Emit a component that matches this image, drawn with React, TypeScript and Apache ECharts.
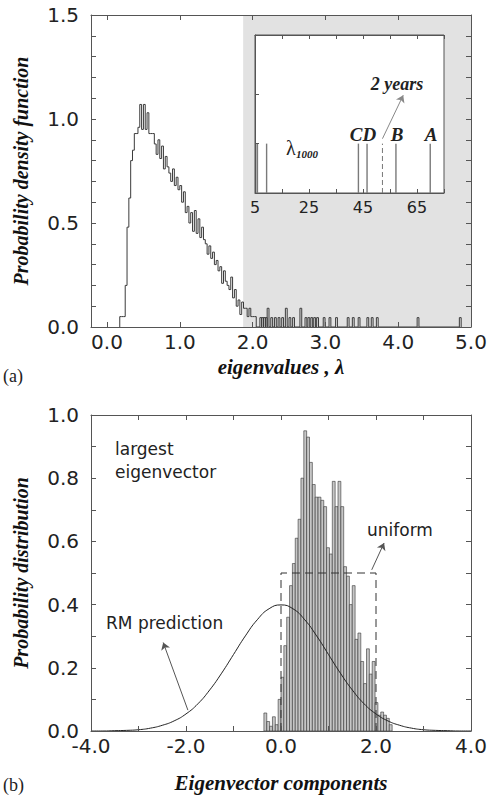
import React, { useEffect, useRef } from "react";
import * as echarts from "echarts";

// ---------- Panel (a): eigenvalue probability density ----------
const topBinStart = 0.175;
const topBinWidth = 0.025;
const topHeights = [
  0.05, 0.05, 0.05, 0.2, 0.48, 0.62, 0.8, 0.85, 0.93, 0.93,
  0.96, 1.07, 0.95, 1.07, 0.95, 1.03, 0.93, 0.93, 0.93, 0.88,
  0.83, 0.9, 0.81, 0.87, 0.76, 0.82, 0.77, 0.74, 0.7, 0.76,
  0.68, 0.72, 0.66, 0.68, 0.6, 0.65, 0.55, 0.58, 0.5, 0.55,
  0.46, 0.56, 0.45, 0.52, 0.43, 0.48, 0.42, 0.4, 0.35, 0.39,
  0.33, 0.36, 0.3, 0.32, 0.27, 0.29, 0.21, 0.27, 0.22, 0.2,
  0.18, 0.24, 0.14, 0.18, 0.1, 0.13, 0.06, 0.12, 0.09, 0.09,
  0.05, 0.09, 0.05, 0.05, 0.05,
];
const tailLeft = [
  2.1, 2.125, 2.15, 2.175, 2.2, 2.25, 2.3, 2.35, 2.4, 2.45, 2.5, 2.55, 2.65,
  2.72, 2.76, 2.8, 2.84, 2.88, 2.97, 3.05, 3.14, 3.3, 3.37, 3.45, 3.57, 3.63,
  3.7, 4.26, 4.84,
];
const tailHeights = [
  0.045, 0.045, 0.045, 0.045, 0.09, 0.045, 0.045, 0.045, 0.045, 0.09, 0.045,
  0.045, 0.09, 0.045, 0.045, 0.045, 0.045, 0.045, 0.045, 0.045, 0.045, 0.045,
  0.045, 0.045, 0.045, 0.045, 0.045, 0.045, 0.045,
];
const shadeFrom = 1.87;
const topXMin = -0.22;
const topXMax = 5;
const topYMax = 1.5;
const topXTicks = [0, 1, 2, 3, 4, 5];
const topYLabels = [0, 0.5, 1, 1.5];

// inset: largest eigenvalues
const insetLines = [5.3, 5.9, 9.3, 43.3, 46.5, 57.2, 69.9];
const insetLineHeight = 1;
const twoYears = 52.2;
const insetXLabels = [5, 25, 45, 65];
const insetYTicks = [1, 2];
const twoYearsArrowFrom = [52.2, 1.1];
const twoYearsArrowTo = [59.9, 1.98];

// ---------- Panel (b): eigenvector components ----------
const botBinStart = -0.36;
const botBinWidth = 0.06;
const botHeights = [
  0.057, 0.03, 0.015, 0.045, 0.02, 0.1, 0.17, 0.27, 0.36, 0.46,
  0.53, 0.61, 0.67, 0.8, 0.95, 0.93, 0.85, 0.78, 0.74, 0.74,
  0.73, 0.71, 0.58, 0.56, 0.79, 0.71, 0.79, 0.71, 0.52, 0.49,
  0.4, 0.46, 0.29, 0.31, 0.22, 0.15, 0.26, 0.18, 0.22, 0.09,
  0.05, 0.06, 0.05, 0.04, 0.02,
];
const gaussX = [
  -4, -3.75, -3.5, -3.25, -3, -2.75, -2.5, -2.25, -2, -1.75, -1.5, -1.25, -1,
  -0.75, -0.5, -0.25, 0, 0.25, 0.5, 0.75, 1, 1.25, 1.5, 1.75, 2, 2.25, 2.5,
  2.75, 3, 3.25, 3.5, 3.75, 4,
];
const gaussY = [
  0.0, 0.0, 0.001, 0.002, 0.004, 0.009, 0.018, 0.032, 0.054, 0.086, 0.13,
  0.183, 0.242, 0.301, 0.352, 0.387, 0.399, 0.387, 0.352, 0.301, 0.242, 0.183,
  0.13, 0.086, 0.054, 0.032, 0.018, 0.009, 0.004, 0.002, 0.001, 0.0, 0.0,
];
const uniformX = [0, 0, 2, 2];
const uniformY = [0, 0.5, 0.5, 0];
const botXTicks = [-4, -3, -2, -1, 0, 1, 2, 3, 4];
const botXLabels = [-4, -2, 0, 2, 4];
const botYLabels = [0, 0.2, 0.4, 0.6, 0.8, 1.0];
const rmArrowFrom = [-1.96, 0.066];
const rmArrowTo = [-2.48, 0.28];
const uniArrowFrom = [1.91, 0.51];
const uniArrowTo = [2.17, 0.595];

const SANS = "'DejaVu Sans', sans-serif";
const SERIF = "'Liberation Serif', 'Times New Roman', serif";
const AX = { color: "#555", width: 1 };
const TXT = "#222";

function nameStyle(size: number) {
  return {
    fontFamily: SERIF,
    fontWeight: "bold",
    fontStyle: "italic",
    fontSize: size,
    color: "#111",
  };
}

export default function App() {
  const ref = useRef<HTMLDivElement>(null);

  useEffect(() => {
    if (!ref.current) return;
    const chart = echarts.init(ref.current, undefined, { renderer: "svg" });

    // step outline for panel (a)
    const topPts: number[][] = [[topBinStart, 0]];
    topHeights.forEach((h, i) => {
      const e = topBinStart + i * topBinWidth;
      topPts.push([e, h], [e + topBinWidth, h]);
    });
    topPts.push([topBinStart + topHeights.length * topBinWidth, 0]);
    tailLeft.forEach((x, i) => {
      const h = tailHeights[i];
      topPts.push([x, 0], [x, h], [x + topBinWidth, h], [x + topBinWidth, 0]);
    });

    const botData = botHeights.map((h, i) => {
      const l = botBinStart + i * botBinWidth;
      return [l, l + botBinWidth, h];
    });

    const f1 = (v: number) => v.toFixed(1);

    const option: any = {
      animation: false,
      backgroundColor: "#fff",
      grid: [
        { left: 91, top: 15, width: 380, height: 312, outerBoundsMode: "none" },
        { left: 91, top: 415, width: 380, height: 316, outerBoundsMode: "none" },
        {
          left: 255, top: 35, width: 189, height: 158, show: true,
          backgroundColor: "#fff", borderColor: "#555", borderWidth: 1, z: 3,
          outerBoundsMode: "none",
        },
      ],
      xAxis: [
        {
          gridIndex: 0, type: "value", min: topXMin, max: topXMax, z: 6,
          axisLine: { show: true, onZero: false, lineStyle: AX },
          axisTick: { show: true, inside: true, length: 5, customValues: topXTicks, lineStyle: AX },
          axisLabel: { customValues: topXTicks, formatter: f1, fontFamily: SANS, fontSize: 20, color: TXT, margin: 5 },
          splitLine: { show: false },
          name: "eigenvalues , λ", nameLocation: "middle", nameGap: 29, nameTextStyle: nameStyle(21),
        },
        {
          gridIndex: 0, type: "value", min: topXMin, max: topXMax, position: "top", z: 6,
          axisLine: { show: true, onZero: false, lineStyle: AX },
          axisTick: { show: true, inside: true, length: 5, customValues: topXTicks, lineStyle: AX },
          axisLabel: { show: false }, splitLine: { show: false },
        },
        {
          gridIndex: 1, type: "value", min: -4, max: 4, z: 6,
          axisLine: { show: true, onZero: false, lineStyle: AX },
          axisTick: { show: true, inside: true, length: 5, customValues: botXTicks, lineStyle: AX },
          axisLabel: { customValues: botXLabels, formatter: f1, fontFamily: SANS, fontSize: 20, color: TXT, margin: 5 },
          splitLine: { show: false },
          name: "Eigenvector components", nameLocation: "middle", nameGap: 41, nameTextStyle: nameStyle(21),
        },
        {
          gridIndex: 1, type: "value", min: -4, max: 4, position: "top", z: 6,
          axisLine: { show: true, onZero: false, lineStyle: AX },
          axisTick: { show: true, inside: true, length: 5, customValues: botXTicks, lineStyle: AX },
          axisLabel: { show: false }, splitLine: { show: false },
        },
        {
          gridIndex: 2, type: "value", min: 5, max: 75, interval: 10, z: 5,
          axisLine: { show: true, onZero: false, lineStyle: AX },
          axisTick: { show: true, inside: true, length: 4, lineStyle: AX },
          axisLabel: { customValues: insetXLabels, fontFamily: SANS, fontSize: 16, color: TXT, margin: 6 },
          splitLine: { show: false },
        },
        {
          gridIndex: 2, type: "value", min: 5, max: 75, interval: 10, position: "top", z: 5,
          axisLine: { show: true, onZero: false, lineStyle: AX },
          axisTick: { show: true, inside: true, length: 4, lineStyle: AX },
          axisLabel: { show: false }, splitLine: { show: false },
        },
      ],
      yAxis: [
        {
          gridIndex: 0, type: "value", min: 0, max: topYMax, interval: 0.1, z: 6,
          axisLine: { show: true, onZero: false, lineStyle: AX },
          axisTick: { show: true, inside: true, length: 5, lineStyle: AX },
          axisLabel: { customValues: topYLabels, formatter: f1, fontFamily: SANS, fontSize: 20, color: TXT, margin: 12 },
          splitLine: { show: false },
          name: "Probability density function", nameLocation: "middle", nameGap: 60, nameTextStyle: nameStyle(20),
        },
        {
          gridIndex: 0, type: "value", min: 0, max: topYMax, interval: 0.1, position: "right", z: 6,
          axisLine: { show: true, onZero: false, lineStyle: AX },
          axisTick: { show: true, inside: true, length: 5, lineStyle: AX },
          axisLabel: { show: false }, splitLine: { show: false },
        },
        {
          gridIndex: 1, type: "value", min: 0, max: 1, interval: 0.1, z: 6,
          axisLine: { show: true, onZero: false, lineStyle: AX },
          axisTick: { show: true, inside: true, length: 5, lineStyle: AX },
          axisLabel: { customValues: botYLabels, formatter: f1, fontFamily: SANS, fontSize: 20, color: TXT, margin: 12 },
          splitLine: { show: false },
          name: "Probability distribution", nameLocation: "middle", nameGap: 60, nameTextStyle: nameStyle(20),
        },
        {
          gridIndex: 1, type: "value", min: 0, max: 1, interval: 0.1, position: "right", z: 6,
          axisLine: { show: true, onZero: false, lineStyle: AX },
          axisTick: { show: true, inside: true, length: 5, lineStyle: AX },
          axisLabel: { show: false }, splitLine: { show: false },
        },
        {
          gridIndex: 2, type: "value", min: 0, max: 3.2, z: 5,
          axisLine: { show: true, onZero: false, lineStyle: AX },
          axisTick: { show: true, inside: true, length: 4, customValues: insetYTicks, lineStyle: AX },
          axisLabel: { show: false }, splitLine: { show: false },
        },
      ],
      series: [
        {
          type: "line", xAxisIndex: 0, yAxisIndex: 0, z: 1, silent: true,
          data: [[shadeFrom, 0]], symbol: "none", lineStyle: { width: 0 },
          markArea: {
            silent: true, itemStyle: { color: "#e2e2e2" },
            data: [[{ coord: [shadeFrom, 0] }, { coord: [topXMax, topYMax] }]],
          },
        },
        {
          type: "line", xAxisIndex: 0, yAxisIndex: 0, z: 2,
          data: topPts, symbol: "none",
          lineStyle: { color: "#3a3a3a", width: 1 },
        },
        {
          type: "bar", xAxisIndex: 4, yAxisIndex: 4, z: 4,
          data: insetLines.map((x) => [x, insetLineHeight]),
          barWidth: 1.4, itemStyle: { color: "#7a7a7a" },
          markLine: {
            silent: true, symbol: ["none", "arrow"], symbolSize: 7,
            label: { show: false },
            lineStyle: { color: "#888", width: 1, type: "solid" },
            data: [[{ coord: twoYearsArrowFrom }, { coord: twoYearsArrowTo }]],
          },
        },
        {
          type: "line", xAxisIndex: 4, yAxisIndex: 4, z: 4,
          data: [[twoYears, 0], [twoYears, insetLineHeight]], symbol: "none",
          lineStyle: { color: "#777", width: 1, type: [5, 3] },
        },
        {
          type: "custom", xAxisIndex: 2, yAxisIndex: 2, z: 2,
          data: botData,
          encode: { x: [0, 1], y: 2 },
          renderItem: (params: any, api: any) => {
            const p0 = api.coord([api.value(0), 0]);
            const p1 = api.coord([api.value(1), api.value(2)]);
            return {
              type: "rect",
              shape: { x: p0[0], y: p1[1], width: p1[0] - p0[0], height: p0[1] - p1[1] },
              style: { fill: "#c6c6c6", stroke: "#333", lineWidth: 0.6 },
            };
          },
        },
        {
          type: "line", xAxisIndex: 2, yAxisIndex: 2, z: 3,
          data: gaussX.map((x, i) => [x, gaussY[i]]), symbol: "none", smooth: true,
          lineStyle: { color: "#222", width: 1 },
          markLine: {
            silent: true, symbol: ["none", "arrow"], symbolSize: 7,
            label: { show: false },
            lineStyle: { color: "#555", width: 1, type: "solid" },
            data: [
              [{ coord: rmArrowFrom }, { coord: rmArrowTo }],
              [{ coord: uniArrowFrom }, { coord: uniArrowTo }],
            ],
          },
        },
        {
          type: "line", xAxisIndex: 2, yAxisIndex: 2, z: 3,
          data: uniformX.map((x, i) => [x, uniformY[i]]), symbol: "none",
          lineStyle: { color: "#333", width: 1, type: [8, 5] },
        },
      ],
      graphic: [
        { type: "text", z: 20, x: 3, y: 376, style: { text: "(a)", fontFamily: SERIF, fontSize: 18, fill: TXT, verticalAlign: "middle" } },
        { type: "text", z: 20, x: 3, y: 785, style: { text: "(b)", fontFamily: SERIF, fontSize: 18, fill: TXT, verticalAlign: "middle" } },
        { type: "text", z: 20, x: 397, y: 84, style: { text: "2 years", fontFamily: SERIF, fontWeight: "bold", fontStyle: "italic", fontSize: 18, fill: TXT, align: "center", verticalAlign: "middle" } },
        { type: "text", z: 20, x: 363, y: 134, style: { text: "CD", fontFamily: SERIF, fontWeight: "bold", fontStyle: "italic", fontSize: 19, fill: TXT, align: "center", verticalAlign: "middle" } },
        { type: "text", z: 20, x: 397, y: 134, style: { text: "B", fontFamily: SERIF, fontWeight: "bold", fontStyle: "italic", fontSize: 19, fill: TXT, align: "center", verticalAlign: "middle" } },
        { type: "text", z: 20, x: 431, y: 134, style: { text: "A", fontFamily: SERIF, fontWeight: "bold", fontStyle: "italic", fontSize: 19, fill: TXT, align: "center", verticalAlign: "middle" } },
        { type: "text", z: 20, x: 286, y: 148, style: { text: "λ", fontFamily: SERIF, fontSize: 20, fill: TXT, verticalAlign: "middle" } },
        { type: "text", z: 20, x: 296, y: 154, style: { text: "1000", fontFamily: SERIF, fontWeight: "bold", fontStyle: "italic", fontSize: 11, fill: TXT, verticalAlign: "middle" } },
        { type: "text", z: 20, x: 115, y: 449, style: { text: "largest", fontFamily: SANS, fontSize: 17, fill: TXT, verticalAlign: "middle" } },
        { type: "text", z: 20, x: 115, y: 472, style: { text: "eigenvector", fontFamily: SANS, fontSize: 17, fill: TXT, verticalAlign: "middle" } },
        { type: "text", z: 20, x: 106, y: 623, style: { text: "RM prediction", fontFamily: SANS, fontSize: 17, fill: TXT, verticalAlign: "middle" } },
        { type: "text", z: 20, x: 367, y: 530, style: { text: "uniform", fontFamily: SANS, fontSize: 17, fill: TXT, verticalAlign: "middle" } },
      ],
    };

    chart.setOption(option);
    return () => chart.dispose();
  }, []);

  return (
    <div
      ref={ref}
      style={{ position: "fixed", left: 0, top: 0, width: 487, height: 796 }}
    />
  );
}
